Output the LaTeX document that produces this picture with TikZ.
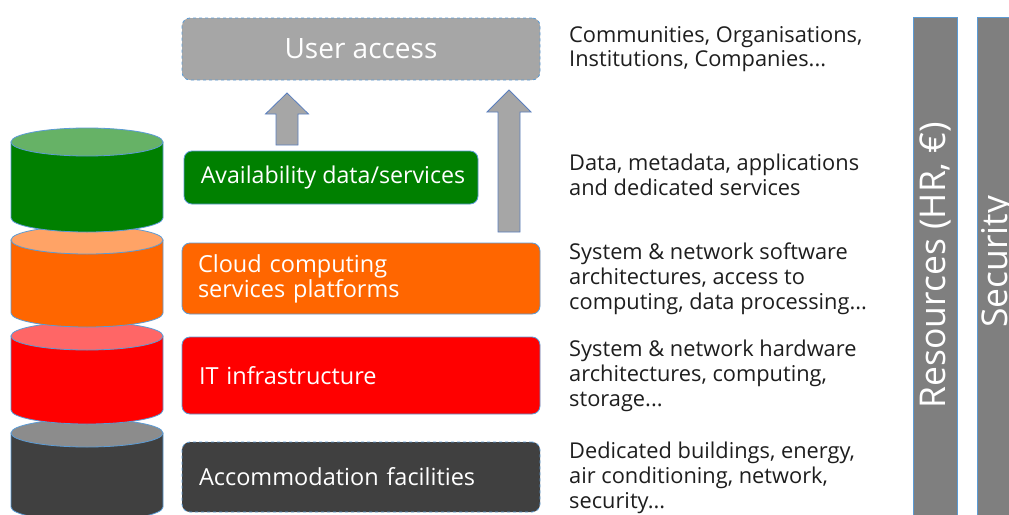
\documentclass[tikz,border=0pt]{standalone}
\usepackage{fontspec}
\setmainfont{Open Sans}
\definecolor{edgeblue}{HTML}{5B9BD5}
\definecolor{arrowedge}{HTML}{5A7FBF}
\definecolor{uagray}{HTML}{A6A6A6}
\definecolor{bargray}{HTML}{7F7F7F}
\definecolor{dgreen}{HTML}{008000}
\definecolor{lgreen}{HTML}{66B266}
\definecolor{dorange}{HTML}{FF6600}
\definecolor{lorange}{HTML}{FFA366}
\definecolor{dred}{HTML}{FF0000}
\definecolor{lred}{HTML}{FF6666}
\definecolor{ddark}{HTML}{404040}
\definecolor{ldark}{HTML}{8C8C8C}
\definecolor{txt}{HTML}{1E1E1E}
\begin{document}
\begin{tikzpicture}[x=1pt,y=1pt,
  layerbox/.style={rectangle, rounded corners=8pt, draw=edgeblue, line width=0.8pt, text=white,
    minimum width=358pt, align=left, font=\fontsize{23.5}{25}\selectfont},
  desc/.style={anchor=north west, inner sep=0pt, align=left, text=txt, font=\fontsize{21.8}{24.8}\selectfont},
  bar/.style={draw=edgeblue, line width=0.8pt, fill=bargray},
  bartext/.style={rotate=90, text=white, font=\fontsize{35.5}{38}\selectfont},
  blockarrow/.style={draw=arrowedge, line width=0.8pt, fill=uagray},
  cylbody/.style={draw=edgeblue, line width=0.8pt},
]
\clip (0,0) rectangle (1009,-514);
\fill[white] (0,0) rectangle (1009,-514);

% cylinders (lowest first)
\foreach \yt/\yb/\dk/\lt in {433/507/ddark/ldark, 336/410/dred/lred, 240/313/dorange/lorange, 142/218/dgreen/lgreen}{
  \draw[cylbody, fill=\dk] (11,-\yt) -- (11,-\yb) arc[start angle=180, end angle=360, x radius=76, y radius=14] -- (163,-\yt) -- cycle;
  \draw[cylbody, fill=\lt] (87,-\yt) ellipse[x radius=76, y radius=14];
}

% layer boxes
\node[layerbox, fill=uagray, dashed, minimum height=62pt, align=center, font=\fontsize{28}{30}\selectfont] (ua) at (361,-49) {User access};
\node[layerbox, fill=dgreen, minimum width=294pt, minimum height=53pt, inner xsep=0pt, font=\fontsize{23.2}{25}\selectfont] (av) at (331,-177.5) {\hspace*{4pt}Availability data/services};
\node[layerbox, fill=dorange, minimum height=71pt, inner xsep=16pt, text width=326pt] (cc) at (361,-278.5) {Cloud computing\\services platforms};
\node[layerbox, fill=dred, minimum height=77pt, inner xsep=17pt, text width=324pt] (it) at (361,-375.5) {IT infrastructure};
\node[layerbox, fill=ddark, dashed, minimum height=70pt, inner xsep=17pt, text width=324pt] (ac) at (361,-477) {Accommodation facilities};

% block arrows
\coordinate (a1b) at (287,-145);
\coordinate (a1t) at (287,-93);
\coordinate (a2b) at (509,-232);
\coordinate (a2t) at (509,-90);
\draw[blockarrow] ([xshift=-11pt]a1b) -- ([xshift=-11pt]a1t |- 0,-114) -- ([xshift=-21.5pt]a1t |- 0,-114) -- (a1t) -- ([xshift=21.5pt]a1t |- 0,-114) -- ([xshift=11pt]a1t |- 0,-114) -- ([xshift=11pt]a1b) -- cycle;
\draw[blockarrow] ([xshift=-11pt]a2b) -- ([xshift=-11pt]a2t |- 0,-112) -- ([xshift=-22pt]a2t |- 0,-112) -- (a2t) -- ([xshift=22pt]a2t |- 0,-112) -- ([xshift=11pt]a2t |- 0,-112) -- ([xshift=11pt]a2b) -- cycle;

% descriptions
\node[desc] (d1) at (569,-26) {Communities, Organisations,\\Institutions, Companies...};
\node[desc] (d2) at (569,-154) {Data, metadata, applications\\and dedicated services};
\node[desc] (d3) at (569,-243) {System \& network software\\architectures, access to\\computing, data processing...};
\node[desc] (d4) at (569,-340) {System \& network hardware\\architectures, computing,\\storage...};
\node[desc] (d5) at (569,-442) {Dedicated buildings, energy,\\air conditioning, network,\\security...};

% side bars
\draw[bar] (913,-17) rectangle (957,-520);
\draw[bar] (977,-17) rectangle (1021,-520);
\node[bartext] (res) at (935,-265) {Resources (HR, €)};
\node[bartext] (sec) at (999,-262) {Security};
\end{tikzpicture}
\end{document}
